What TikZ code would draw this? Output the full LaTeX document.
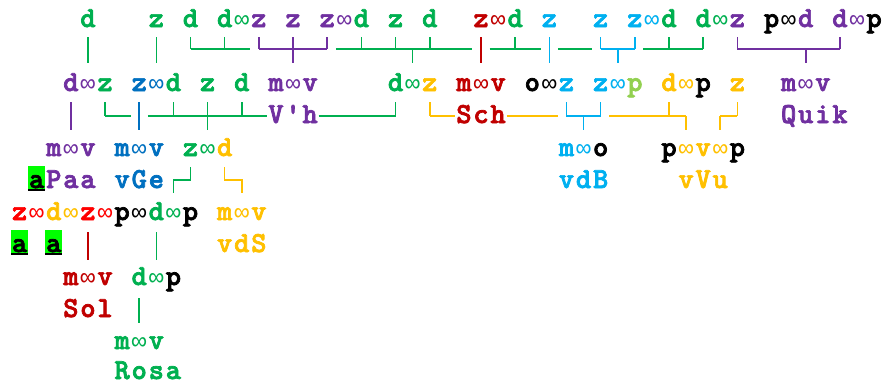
\documentclass[tikz,border=0pt]{standalone}
\usepackage{fontspec}
\newfontfamily\inffont{Liberation Mono}
\newfontfamily\cour{lmmonolt10-bold.otf}[FakeBold=2.5]

\definecolor{grn}{RGB}{0,176,80}
\definecolor{prp}{RGB}{112,48,160}
\definecolor{blu}{RGB}{0,112,192}
\definecolor{lbl}{RGB}{0,176,240}
\definecolor{drd}{RGB}{192,0,0}
\definecolor{brd}{RGB}{255,0,0}
\definecolor{ylw}{RGB}{255,192,0}
\definecolor{lgr}{RGB}{146,208,80}
\definecolor{hlg}{RGB}{0,255,0}
\newcommand{\oo}{{\inffont\fontsize{25}{26}\selectfont ∞}}

\begin{document}
\begin{tikzpicture}[x=17.09pt, y=-1pt,
    ch/.style={inner sep=0pt, anchor=base, font=\cour\fontsize{29}{31}\selectfont},
    word/.style={ch, anchor=base},
    link/.style={line width=1.6pt}]
    \useasboundingbox (-1.147,0) rectangle (50.697,384);

    % Top row of letters
    \foreach \k/\c/\col in {4/d/grn, 8/z/grn, 10/d/grn, 12/d/grn, 13/\oo/grn, 14/z/prp, 16/z/prp, 18/z/prp, 19/\oo/prp, 20/d/grn, 22/z/grn, 24/d/grn, 27/z/drd, 28/\oo/drd, 29/d/grn, 31/z/lbl, 34/z/lbl, 36/z/lbl, 37/\oo/lbl, 38/d/grn, 40/d/grn, 41/\oo/grn, 42/z/prp, 44/p/black, 45/\oo/black, 46/d/prp, 48/d/prp, 49/\oo/prp, 50/p/black} {
      \node[ch, text=\col] (a\k) at (\k,27) {\c};
    }

    % Second row
    \foreach \k/\c/\col in {3/d/prp, 4/\oo/prp, 5/z/grn, 7/z/blu, 8/\oo/blu, 9/d/grn, 11/z/grn, 13/d/grn, 15/m/prp, 16/\oo/prp, 17/v/prp, 22/d/grn, 23/\oo/grn, 24/z/ylw, 26/m/drd, 27/\oo/drd, 28/v/drd, 30/o/black, 31/\oo/black, 32/z/lbl, 34/z/lbl, 35/\oo/lbl, 36/p/lgr, 38/d/ylw, 39/\oo/ylw, 40/p/black, 42/z/ylw, 45/m/prp, 46/\oo/prp, 47/v/prp} {
      \node[ch, text=\col] (b\k) at (\k,91) {\c};
    }

    % Third row
    \foreach \k/\c/\col in {2/m/prp, 3/\oo/prp, 4/v/prp, 6/m/blu, 7/\oo/blu, 8/v/blu, 10/z/grn, 11/\oo/grn, 12/d/ylw, 32/m/lbl, 33/\oo/lbl, 34/o/black, 38/p/black, 39/\oo/ylw, 40/v/ylw, 41/\oo/ylw, 42/p/black} {
      \node[ch, text=\col] (c\k) at (\k,156) {\c};
    }

    % Lower rows
    \foreach \k/\c/\col in {0/z/brd, 1/\oo/brd, 2/d/ylw, 3/\oo/ylw, 4/z/brd, 5/\oo/brd, 6/p/black, 7/\oo/black, 8/d/grn, 9/\oo/grn, 10/p/black, 12/m/ylw, 13/\oo/ylw, 14/v/ylw} {
      \node[ch, text=\col] (d\k) at (\k,220) {\c};
    }
    \foreach \k/\c/\col in {3/m/drd, 4/\oo/drd, 5/v/drd, 7/d/grn, 8/\oo/grn, 9/p/black} {
      \node[ch, text=\col] (e\k) at (\k,285) {\c};
    }
    \foreach \k/\c/\col in {6/m/grn, 7/\oo/grn, 8/v/grn} {
      \node[ch, text=\col] (f\k) at (\k,349) {\c};
    }

    % Names, one letter per cell
    \foreach \n/\k/\y/\t/\col in {vh/15/123/{V,',h}/prp, sch/26/123/{S,c,h}/drd, quik/45/123/{Q,u,i,k}/prp, paa/2/188/{P,a,a}/prp, vge/6/188/{v,G,e}/blu, vdb/32/188/{v,d,B}/lbl, vvu/39/188/{v,V,u}/ylw, vds/12/252/{v,d,S}/ylw, sol/3/317/{S,o,l}/drd, rosa/6/379/{R,o,s,a}/grn} {
      \foreach \c [count=\i from 0] in \t {
        \node[word, text=\col] (\n\i) at ({\k+\i},\y) {\c};
      }
    }

    % Marked a
    \foreach \k/\y in {1/188, 0/252, 2/252} {
      \fill[hlg] ({\k-0.5},\y-22) rectangle ({\k+0.5},\y+3);
      \node[ch] (a-\k-\y) at (\k,\y) {a};
      \draw[line width=1.5pt] ({\k-0.5},\y+2) -- ({\k+0.5},\y+2);
    }

    % Lines below top row
    \foreach \k/\col in {4/grn, 8/grn, 16/prp, 23/grn, 27/drd, 31/lbl, 35/lbl, 46/prp} {
      \draw[link, \col] (\k,49) -- (\k,63);
    }
    \foreach \k/\col in {4/grn, 8/grn, 10/grn, 12/grn, 14/prp, 16/prp, 18/prp, 20/grn, 22/grn, 24/grn, 27/drd, 29/grn, 31/lbl, 34/lbl, 36/lbl, 38/grn, 40/grn, 42/prp, 48/prp} {
      \draw[link, \col] (\k,37) -- (\k,49);
    }
    \draw[link, grn] (10,49) -- (13.5,49);
    \draw[link, grn] (18.5,49) -- (26.5,49);
    \draw[link, grn] (27.5,49) -- (30.5,49);
    \draw[link, grn] (31.5,49) -- (33.5,49);
    \draw[link, grn] (36.5,49) -- (40,49);
    \draw[link, prp] (14,49) -- (18,49);
    \draw[link, lbl] (34,49) -- (36,49);
    \draw[link, prp] (42,49) -- (48,49);

    % Lines below second row
    \foreach \k/\col in {3/prp, 7/blu, 11/grn, 33/lbl, 39/ylw, 41/ylw} {
      \draw[link, \col] (\k,116) -- (\k,130);
    }
    \foreach \k/\col in {3/prp, 5/grn, 7/blu, 9/grn, 11/grn, 13/grn, 22/grn, 24/ylw, 32/lbl, 34/lbl, 38/ylw, 42/ylw} {
      \draw[link, \col] (\k,102) -- (\k,116);
    }
    \draw[link, grn] (5,116) -- (6.5,116);
    \draw[link, grn] (7.5,116) -- (14.5,116);
    \draw[link, grn] (17.5,116) -- (22,116);
    \draw[link, ylw] (24,116) -- (25.5,116);
    \draw[link, ylw] (28.5,116) -- (31.5,116);
    \draw[link, ylw] (34.5,116) -- (39,116);
    \draw[link, lbl] (32,116) -- (34,116);
    \draw[link, ylw] (41,116) -- (42,116);

    % Steps beside vGe
    \draw[link, grn] (10,167) -- (10,180) -- (9,180) -- (9,193);
    \draw[link, ylw] (12,167) -- (12,180) -- (13,180) -- (13,193);

    % Lower lines
    \draw[link, drd] (4,232) -- (4,260);
    \draw[link, grn] (8,232) -- (8,260);
    \draw[link, grn] (7,298) -- (7,323);

  \end{tikzpicture}
\end{document}
